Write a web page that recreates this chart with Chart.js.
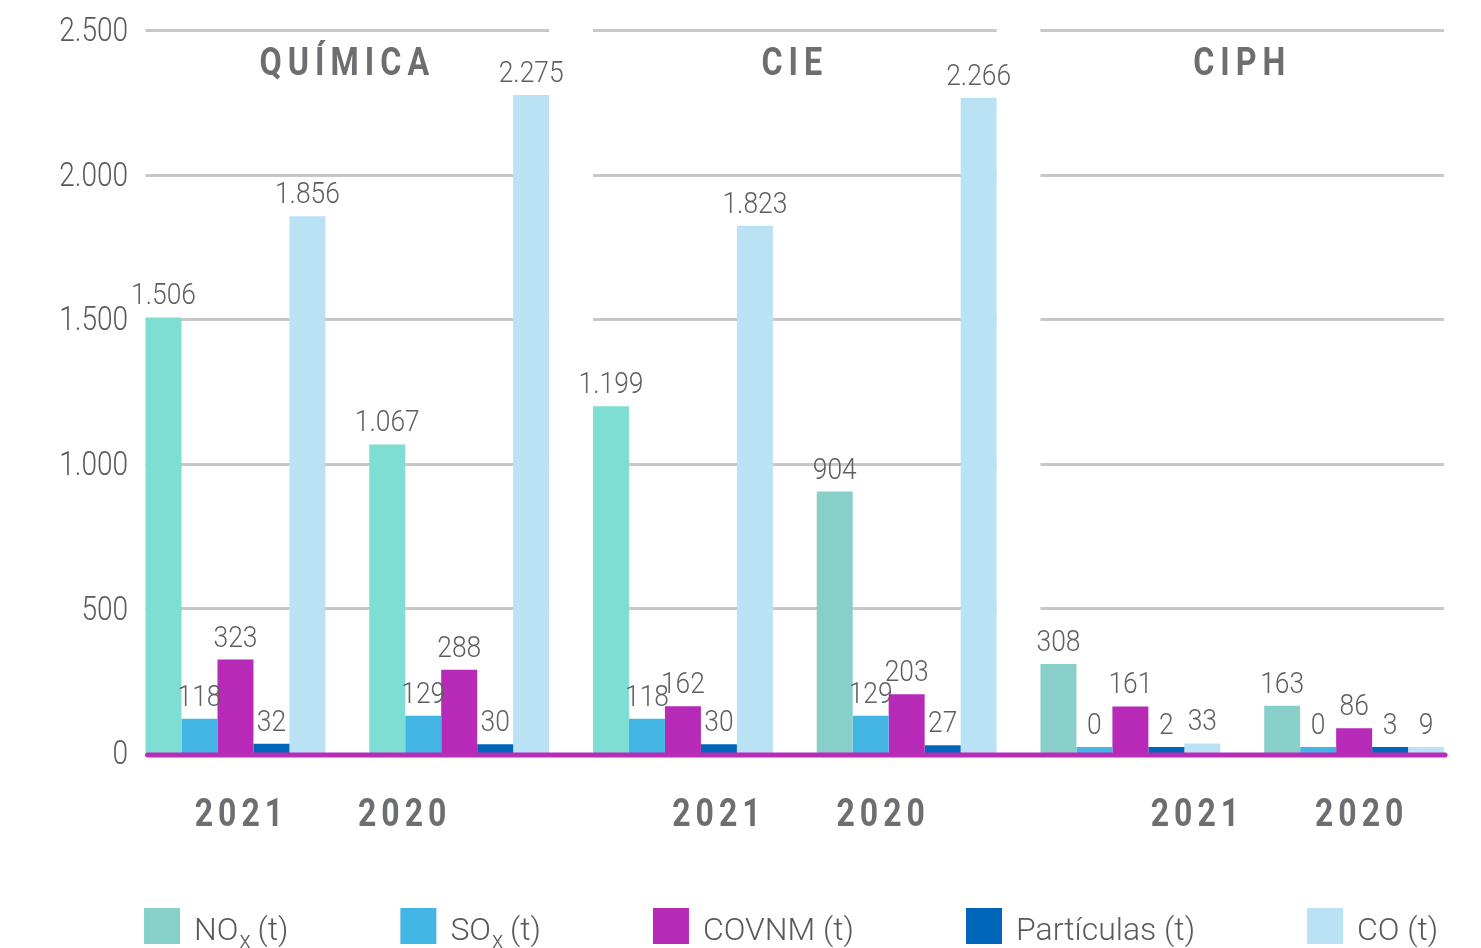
<!DOCTYPE html>
<html>
<head>
<meta charset="utf-8">
<title>Emissões atmosféricas</title>
<script src="https://cdn.jsdelivr.net/npm/chart.js@4.4.1/dist/chart.umd.min.js"></script>
<style>
  html, body { margin: 0; padding: 0; background: #fff; overflow: hidden; }
  #wrap { position: relative; width: 1481px; height: 948px; }
</style>
</head>
<body>
<div id="wrap"><canvas id="emissoes"></canvas></div>
<script>
// data
var groups = ['QUÍMICA', 'CIE', 'CIPH'];
var years = ['2021', '2020', '2021', '2020', '2021', '2020'];
var seriesNames = ['NOₓ (t)', 'SOₓ (t)', 'COVNM (t)', 'Partículas (t)', 'CO (t)'];
var nox = [1506, 1067, 1199, 904, 308, 163];
var sox = [118, 129, 118, 129, 0, 0];
var covnm = [323, 288, 162, 203, 161, 86];
var particulas = [32, 30, 30, 27, 2, 3];
var co = [1856, 2275, 1823, 2266, 33, 9];
var yTicks = [0, 500, 1000, 1500, 2000, 2500];

// look
var FONT = "Roboto, 'Liberation Sans', sans-serif";
var noxColors = ['#7fded4', '#7fded4', '#7fded4', '#88cfca', '#88cfca', '#88cfca'];
var legendColors = ['#88d1cb', '#42b5e5', '#b72ab7', '#0066bb', '#b9e3f4'];
var yearNudge = [3.5, -57, 33.5, -26, 64.5, 5];

function fmt(v) {
  return String(v).replace(/\B(?=(\d{3})+(?!\d))/g, '.');
}

// the original uses a condensed DIN face, so squeeze text horizontally
function narrowText(ctx, text, x, y, sx) {
  ctx.save();
  ctx.translate(x, y);
  ctx.scale(sx, 1);
  ctx.fillText(text, 0, 0);
  ctx.restore();
}

// legend text with a real subscript x; returns the end x
function richText(ctx, text, x, y) {
  var parts = text.split('ₓ');
  parts.forEach(function(p, k) {
    if (k > 0) {
      ctx.font = '300 23px ' + FONT;
      ctx.fillText('x', x + 1, y + 8);
      x += ctx.measureText('x').width;
      ctx.font = '300 32px ' + FONT;
    }
    ctx.fillText(p, x, y);
    x += ctx.measureText(p).width;
  });
  return x;
}

function groupBounds(chart, g) {
  var first = chart.getDatasetMeta(0).data[g * 2];
  var last = chart.getDatasetMeta(chart.data.datasets.length - 1).data[g * 2 + 1];
  return { left: first.x - first.width / 2, right: last.x + last.width / 2 };
}

// gridlines broken into one panel per group + y tick labels
var panelGrid = {
  id: 'panelGrid',
  beforeDatasetsDraw: function(chart) {
    var ctx = chart.ctx, ys = chart.scales.y;
    ctx.save();
    ctx.strokeStyle = '#c8c8c8';
    ctx.lineWidth = 3;
    groups.forEach(function(name, g) {
      var b = groupBounds(chart, g);
      ys.ticks.forEach(function(t) {
        if (t.value === 0) return;
        var py = Math.round(ys.getPixelForValue(t.value)) + 0.5;
        ctx.beginPath();
        ctx.moveTo(b.left, py);
        ctx.lineTo(b.right, py);
        ctx.stroke();
      });
    });
    ctx.fillStyle = '#58595b';
    ctx.font = '300 33px ' + FONT;
    ctx.textAlign = 'right';
    ctx.textBaseline = 'middle';
    ys.ticks.forEach(function(t) {
      narrowText(ctx, fmt(t.value), chart.chartArea.left + 4.5, ys.getPixelForValue(t.value) + 3, 0.85);
    });
    ctx.restore();
  }
};

// zero line, value labels, group titles, years
var annotate = {
  id: 'annotate',
  afterDatasetsDraw: function(chart) {
    var ctx = chart.ctx, ys = chart.scales.y, xs = chart.scales.x;
    var base = ys.getPixelForValue(0);
    var first = groupBounds(chart, 0), last = groupBounds(chart, groups.length - 1);
    ctx.save();
    ctx.strokeStyle = '#b92cb6';
    ctx.lineWidth = 5;
    ctx.lineCap = 'round';
    ctx.beginPath();
    ctx.moveTo(first.left + 2, base + 2);
    ctx.lineTo(last.right + 1, base + 2);
    ctx.stroke();

    ctx.fillStyle = '#5d5e60';
    ctx.font = '300 30px ' + FONT;
    ctx.textAlign = 'center';
    ctx.textBaseline = 'alphabetic';
    chart.data.datasets.forEach(function(ds, i) {
      chart.getDatasetMeta(i).data.forEach(function(bar, j) {
        narrowText(ctx, fmt(ds.data[j]), bar.x, bar.y - 13, 0.88);
      });
    });

    ctx.fillStyle = '#6d6e71';
    ctx.font = 'bold 38px ' + FONT;
    ctx.letterSpacing = (6 / 0.85) + 'px';
    groups.forEach(function(name, g) {
      var b = groupBounds(chart, g);
      narrowText(ctx, name, (b.left + b.right) / 2, chart.chartArea.top + 45, 0.85);
    });
    ctx.font = 'bold 39px ' + FONT;
    ctx.letterSpacing = (5 / 0.82) + 'px';
    years.forEach(function(label, i) {
      narrowText(ctx, label, xs.getPixelForValue(i) + yearNudge[i] + 2.5, base + 73, 0.82);
    });
    ctx.restore();
  }
};

// legend row under the years, starting at the first bar's edge
var bottomLegend = {
  id: 'bottomLegend',
  afterDraw: function(chart) {
    var ctx = chart.ctx;
    var x = groupBounds(chart, 0).left - 1.5;
    var top = chart.chartArea.bottom + 155;
    ctx.save();
    ctx.font = '300 32px ' + FONT;
    ctx.textAlign = 'left';
    ctx.textBaseline = 'alphabetic';
    chart.data.datasets.forEach(function(ds, i) {
      ctx.fillStyle = legendColors[i];
      ctx.fillRect(x, top, 36, 36);
      ctx.fillStyle = '#58595b';
      x = richText(ctx, ds.label, x + 50, top + 32) + 112;
    });
    ctx.restore();
  }
};

var ctx = document.getElementById('emissoes').getContext('2d');
var chart = new Chart(ctx, {
  type: 'bar',
  data: {
    labels: years,
    datasets: [
      { label: seriesNames[0], data: nox, backgroundColor: noxColors },
      { label: seriesNames[1], data: sox, backgroundColor: legendColors[1] },
      { label: seriesNames[2], data: covnm, backgroundColor: legendColors[2] },
      { label: seriesNames[3], data: particulas, backgroundColor: legendColors[3] },
      { label: seriesNames[4], data: co, backgroundColor: legendColors[4] }
    ]
  },
  options: {
    responsive: true,
    maintainAspectRatio: false,
    devicePixelRatio: 1,
    animation: false,
    events: [],
    layout: { padding: { top: 30, left: 123.6, right: 15, bottom: 195 } },
    datasets: {
      bar: { categoryPercentage: 0.804, barPercentage: 1, borderWidth: 0, minBarLength: 6 }
    },
    scales: {
      x: {
        offset: true,
        grid: { display: false, drawTicks: false },
        border: { display: false },
        ticks: { display: false },
        afterFit: function(s) { s.height = 0; }
      },
      y: {
        min: 0,
        max: 2500,
        afterBuildTicks: function(s) { s.ticks = yTicks.map(function(v) { return { value: v }; }); },
        grid: { display: false, drawTicks: false },
        border: { display: false },
        ticks: { display: false },
        afterFit: function(s) { s.width = 0; }
      }
    },
    plugins: {
      tooltip: { enabled: false },
      legend: { display: false }
    }
  },
  plugins: [panelGrid, annotate, bottomLegend]
});
</script>
</body>
</html>
